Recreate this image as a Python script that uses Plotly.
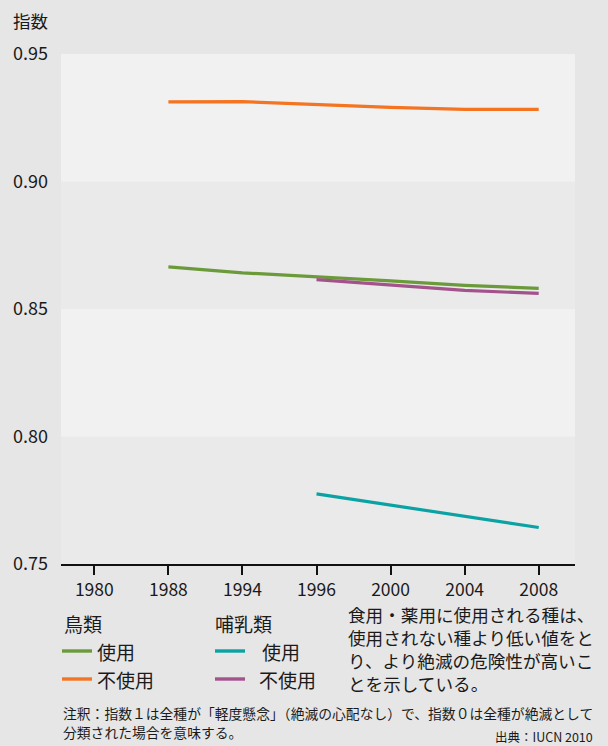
import plotly.graph_objects as go

# ---- data ----
year_labels = ["1980", "1988", "1994", "1996", "2000", "2004", "2008"]

bird_years = ["1988", "1994", "2000", "2004", "2008"]
birds_used = [0.8665, 0.8642, 0.8610, 0.8593, 0.8581]
birds_not_used = [0.9312, 0.9313, 0.9291, 0.9283, 0.9283]

mammal_used_years = ["1996", "2008"]
mammals_used = [0.7775, 0.7643]
mammal_not_used_years = ["1996", "2004", "2008"]
mammals_not_used = [0.8615, 0.8573, 0.8561]

y_ticks = [0.75, 0.80, 0.85, 0.90, 0.95]
y_tick_text = ["0.75", "0.80", "0.85", "0.90", "0.95"]

# ---- styles ----
FONT = "Noto Sans CJK JP"
GREEN = "#6b9a3b"
ORANGE = "#f47421"
TEAL = "#0aa2a3"
PURPLE = "#a3528c"
W, H = 608, 746
L, R, T, B = 61, 33, 54, 182


def xi(years):
    return [year_labels.index(y) for y in years]


def px_x(px):
    return (px - L) / (W - L - R)


def px_y(py):
    return (H - B - py) / (H - T - B)


fig = go.Figure()
fig.add_trace(go.Scatter(x=xi(bird_years), y=birds_not_used, mode="lines",
                         line=dict(color=ORANGE, width=3.2), hoverinfo="skip"))
fig.add_trace(go.Scatter(x=xi(bird_years), y=birds_used, mode="lines",
                         line=dict(color=GREEN, width=3.2), hoverinfo="skip"))
fig.add_trace(go.Scatter(x=xi(mammal_not_used_years), y=mammals_not_used, mode="lines",
                         line=dict(color=PURPLE, width=3.2), hoverinfo="skip"))
fig.add_trace(go.Scatter(x=xi(mammal_used_years), y=mammals_used, mode="lines",
                         line=dict(color=TEAL, width=3.2), hoverinfo="skip"))

shapes = []
# alternating bands
for lo, hi in [(0.90, 0.95), (0.80, 0.85)]:
    shapes.append(dict(type="rect", xref="paper", yref="y", x0=0, x1=1, y0=lo, y1=hi,
                       fillcolor="#f1f1f1", line=dict(width=0), layer="below"))
# legend samples
for (x0, x1, py, col) in [(62, 92, 651, GREEN), (62, 92, 679, ORANGE),
                           (215, 245, 651, TEAL), (215, 245, 679, PURPLE)]:
    shapes.append(dict(type="line", xref="paper", yref="paper",
                       x0=px_x(x0), x1=px_x(x1), y0=px_y(py), y1=px_y(py),
                       line=dict(color=col, width=3.4)))

ann = []


def text(s, px, py, size, xanchor="left", yanchor="middle", align="left"):
    ann.append(dict(text=s, xref="paper", yref="paper", x=px_x(px), y=px_y(py),
                    xanchor=xanchor, yanchor=yanchor, align=align, showarrow=False,
                    borderpad=0,
                    font=dict(family=FONT, size=size, color="#1a1a1a")))


text("指数", 12, 20, 17.5)
text("鳥類", 63, 623, 19)
text("使用", 96, 651, 19)
text("不使用", 96, 679, 19)
text("哺乳類", 214, 623, 19)
text("使用", 261, 651, 19)
text("不使用", 258, 679, 19)
para = ["食用・薬用に使用される種は、", "使用されない種より低い値をと",
        "り、より絶滅の危険性が高いこ", "とを示している。"]
text("<br>".join(para), 347, 648.5, 17.6)
text("注釈：指数１は全種が「軽度懸念」（絶滅の心配なし）で、指数０は全種が絶滅として",
     62, 713, 13.8)
text("分類された場合を意味する。", 62, 732, 13.8)
text("出典：IUCN 2010", 594, 736, 12.5, xanchor="right")

fig.update_layout(
    width=W, height=H,
    margin=dict(l=L, r=R, t=T, b=B),
    paper_bgcolor="#e6e6e6",
    plot_bgcolor="#eaeaea",
    showlegend=False,
    font=dict(family=FONT, color="#1a1a1a"),
    shapes=shapes,
    annotations=ann,
    xaxis=dict(range=[-0.45, 6.49], tickmode="array", tickvals=list(range(len(year_labels))),
               ticktext=year_labels, showgrid=False, zeroline=False,
               showline=True, linecolor="#111111", linewidth=2,
               ticks="outside", ticklen=9, tickwidth=2, tickcolor="#111111",
               tickfont=dict(family=FONT, size=17.5, color="#1a1a1a")),
    yaxis=dict(range=[0.75, 0.95], tickmode="array", tickvals=y_ticks, ticktext=y_tick_text,
               showgrid=False, zeroline=False, showline=False, ticks="",
               ticklabelstandoff=12,
               tickfont=dict(family=FONT, size=18, color="#1a1a1a")),
)

fig.write_html("out.html", config={"displayModeBar": False},
               post_script="document.body.style.margin='0';document.body.style.background='#e6e6e6';")
